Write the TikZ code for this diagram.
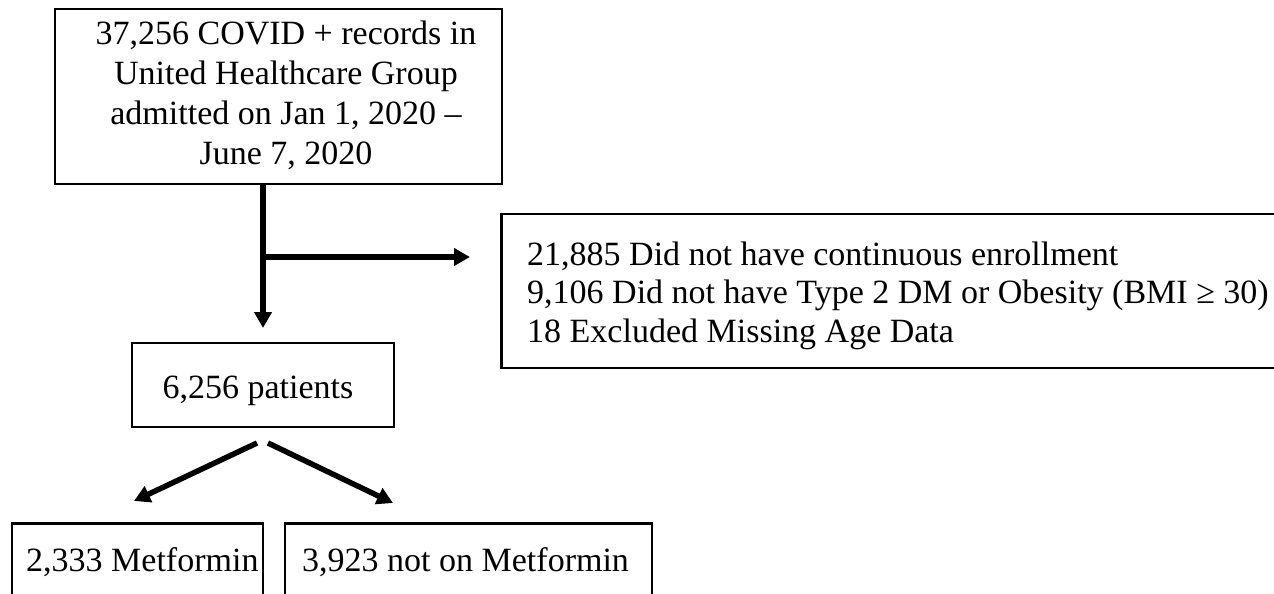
\documentclass[tikz,border=0pt]{standalone}
\usepackage{fontspec}
\setmainfont{Liberation Serif}
\usetikzlibrary{arrows.meta,calc}
\begin{document}
\begin{tikzpicture}[x=1pt,y=-1pt,
  box/.style={draw=black,line width=2.5pt,inner sep=0pt},
  txt/.style={inner sep=0pt,font=\fontsize{34}{40}\selectfont},
  arr/.style={line width=5.5pt,-{Triangle[length=16pt,width=17pt]}}]
\useasboundingbox (0,0) rectangle (1274,594);
\clip (0,0) rectangle (1274,594);
% top box
\node[box,minimum width=447pt,minimum height=175pt] (top) at (278.5,96.5) {};
\node[txt,align=center,anchor=base] (topT) at (286,164)
  {37,256 COVID + records in\\United Healthcare Group\\admitted on Jan 1, 2020 --\\June 7, 2020};
% middle box
\node[box,minimum width=262pt,minimum height=84pt] (mid) at (263,385) {};
\node[txt,anchor=base] (midT) at (258,398) {6,256 patients};
% exclusion box
\node[box,anchor=west,minimum width=800pt,minimum height=154pt] (excl) at (500,291) {};
\node[inner sep=0pt,anchor=base west,align=left,font=\fontsize{34}{38.5}\selectfont] (exclT) at (527,342)
  {21,885 Did not have continuous enrollment\\9,106 Did not have Type 2 DM or Obesity (BMI \symbol{"2265} 30)\\18 Excluded Missing Age Data};
% bottom boxes
\node[box,minimum width=251pt,minimum height=120pt,anchor=north] (met) at (137.5,522) {};
\node[txt,anchor=base west] (metT) at (26,571) {2,333 Metformin};
\node[box,minimum width=367pt,minimum height=120pt,anchor=north] (nomet) at (468.5,522) {};
\node[txt,anchor=base west] (nometT) at (302,571) {3,923 not on Metformin};
% connectors
\coordinate (j) at (263,257);
\coordinate (je) at (470,257);
\coordinate (s1) at (257,443);
\coordinate (e1) at (134,501);
\coordinate (s2) at (268,443);
\coordinate (e2) at (393,503);
\draw[arr] (top.south -| j) -- (j |- 0,328);
\draw[arr] (j) -- (je);
\draw[arr] (s1) -- (e1);
\draw[arr] (s2) -- (e2);
\end{tikzpicture}
\end{document}
